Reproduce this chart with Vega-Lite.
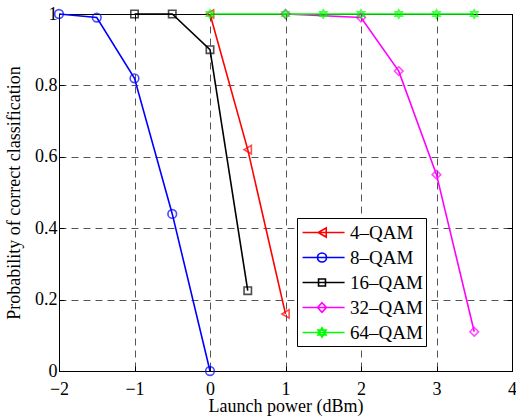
{
  "$schema": "https://vega.github.io/schema/vega-lite/v6.json",
  "width": 453,
  "height": 357,
  "autosize": "none",
  "padding": {"left": 59, "top": 14, "right": 4, "bottom": 48},
  "background": "white",
  "config": {
    "font": "Liberation Serif",
    "view": {"stroke": "black", "strokeWidth": 1},
    "axis": {
      "labelFont": "Liberation Serif",
      "titleFont": "Liberation Serif",
      "labelFontSize": 18,
      "titleFontSize": 18,
      "labelColor": "black",
      "titleColor": "black",
      "titleFontWeight": "normal",
      "labelFlush": false,
      "labelOverlap": false,
      "domainColor": "black",
      "tickColor": "black",
      "tickSize": -5,
      "gridColor": "#444",
      "gridDash": [7, 5],
      "gridOpacity": 0.9,
      "gridWidth": 1
    },
    "legend": {
      "labelFont": "Liberation Serif",
      "labelFontSize": 19,
      "labelColor": "black"
    }
  },
  "data": {
    "values": [
      {"p": 0, "acc": 1.0, "s": "4–QAM"},
      {"p": 0.5, "acc": 0.62, "s": "4–QAM"},
      {"p": 1, "acc": 0.16, "s": "4–QAM"},
      {"p": -2, "acc": 1.0, "s": "8–QAM"},
      {"p": -1.5, "acc": 0.99, "s": "8–QAM"},
      {"p": -1, "acc": 0.82, "s": "8–QAM"},
      {"p": -0.5, "acc": 0.44, "s": "8–QAM"},
      {"p": 0, "acc": 0.0, "s": "8–QAM"},
      {"p": -1, "acc": 1.0, "s": "16–QAM"},
      {"p": -0.5, "acc": 1.0, "s": "16–QAM"},
      {"p": 0, "acc": 0.9, "s": "16–QAM"},
      {"p": 0.5, "acc": 0.225, "s": "16–QAM"},
      {"p": 1, "acc": 1.0, "s": "32–QAM"},
      {"p": 2, "acc": 0.99, "s": "32–QAM"},
      {"p": 2.5, "acc": 0.84, "s": "32–QAM"},
      {"p": 3, "acc": 0.55, "s": "32–QAM"},
      {"p": 3.5, "acc": 0.11, "s": "32–QAM"},
      {"p": 0, "acc": 1.0, "s": "64–QAM"},
      {"p": 1, "acc": 1.0, "s": "64–QAM"},
      {"p": 1.5, "acc": 1.0, "s": "64–QAM"},
      {"p": 2, "acc": 1.0, "s": "64–QAM"},
      {"p": 2.5, "acc": 1.0, "s": "64–QAM"},
      {"p": 3, "acc": 1.0, "s": "64–QAM"},
      {"p": 3.5, "acc": 1.0, "s": "64–QAM"}
    ]
  },
  "layer": [
    {
      "mark": {"type": "line", "strokeWidth": 1.6, "clip": false},
      "encoding": {
        "x": {
          "field": "p", "type": "quantitative",
          "scale": {"domain": [-2, 4], "nice": false},
          "axis": {"title": "Launch power (dBm)", "values": [-2, -1, 0, 1, 2, 3, 4], "format": "d", "labelPadding": 14, "titlePadding": -1, "grid": true}
        },
        "y": {
          "field": "acc", "type": "quantitative",
          "scale": {"domain": [0, 1], "nice": false},
          "axis": {"title": "Probability of correct classification", "values": [0, 0.2, 0.4, 0.6, 0.8, 1], "labelExpr": "datum.value == 0 ? '0' : datum.value == 1 ? '1' : format(datum.value, '.1f')", "labelPadding": 7, "titlePadding": 11, "grid": true}
        },
        "color": {
          "field": "s", "type": "nominal",
          "scale": {"domain": ["4–QAM", "8–QAM", "16–QAM", "32–QAM", "64–QAM"], "range": ["#ff0000", "#0000ff", "#000000", "#ff00ff", "#00ff00"]},
          "legend": {
            "title": null,
            "orient": "none",
            "legendX": 238,
            "legendY": 204,
            "padding": 3,
            "strokeColor": "black",
            "fillColor": "white",
            "symbolSize": 441,
            "symbolStrokeWidth": 1.6,
            "labelOffset": 27,
            "rowPadding": 3,
            "encode": {
              "symbols": {
                "update": {
                  "fill": {"value": "transparent"},
                  "shape": {"signal": "datum.value == '4–QAM' ? 'M-0.85,0H3.15M1.4,-0.43L0.63,0L1.4,0.43Z' : datum.value == '8–QAM' ? 'M-0.85,0H3.15M1.43,0A0.43,0.43 0 1 1 0.57,0A0.43,0.43 0 1 1 1.43,0' : datum.value == '16–QAM' ? 'M-0.85,0H3.15M0.67,-0.33H1.33V0.33H0.67Z' : datum.value == '32–QAM' ? 'M-0.85,0H3.15M1,-0.45L1.42,0L1,0.45L0.58,0Z' : 'M-0.85,0H3.15M1,-0.45L1.39,0.225L0.61,0.225ZM1,0.45L1.39,-0.225L0.61,-0.225Z'"}
                }
              }
            }
          }
        }
      }
    },
    {
      "transform": [{"filter": "datum.s == '4–QAM'"}],
      "mark": {"type": "point", "shape": "triangle-left", "filled": false, "stroke": "#ff0000", "strokeWidth": 1.6, "size": 70, "clip": false},
      "encoding": {
        "x": {"field": "p", "type": "quantitative", "axis": {"orient": "top", "labels": false, "title": null, "grid": false, "values": [-2, -1, 0, 1, 2, 3, 4]}},
        "y": {"field": "acc", "type": "quantitative", "axis": {"orient": "right", "labels": false, "title": null, "grid": false, "values": [0, 0.2, 0.4, 0.6, 0.8, 1]}}
      }
    },
    {
      "transform": [{"filter": "datum.s == '8–QAM'"}],
      "mark": {"type": "point", "shape": "circle", "filled": false, "stroke": "#0000ff", "strokeWidth": 1.6, "size": 75, "clip": false},
      "encoding": {
        "x": {"field": "p", "type": "quantitative", "axis": null},
        "y": {"field": "acc", "type": "quantitative", "axis": null}
      }
    },
    {
      "transform": [{"filter": "datum.s == '16–QAM'"}],
      "mark": {"type": "point", "shape": "square", "filled": false, "stroke": "#000000", "strokeWidth": 1.6, "size": 55, "clip": false},
      "encoding": {
        "x": {"field": "p", "type": "quantitative", "axis": null},
        "y": {"field": "acc", "type": "quantitative", "axis": null}
      }
    },
    {
      "transform": [{"filter": "datum.s == '32–QAM'"}],
      "mark": {"type": "point", "shape": "diamond", "filled": false, "stroke": "#ff00ff", "strokeWidth": 1.6, "size": 75, "clip": false},
      "encoding": {
        "x": {"field": "p", "type": "quantitative", "axis": null},
        "y": {"field": "acc", "type": "quantitative", "axis": null}
      }
    },
    {
      "transform": [{"filter": "datum.s == '64–QAM'"}],
      "mark": {"type": "point", "shape": "M0,-1L0.866,0.5L-0.866,0.5ZM0,1L0.866,-0.5L-0.866,-0.5Z", "filled": false, "stroke": "#00ff00", "strokeWidth": 1.6, "size": 70, "clip": false},
      "encoding": {
        "x": {"field": "p", "type": "quantitative", "axis": null},
        "y": {"field": "acc", "type": "quantitative", "axis": null}
      }
    }
  ],
  "resolve": {"axis": {"x": "independent", "y": "independent"}}
}
